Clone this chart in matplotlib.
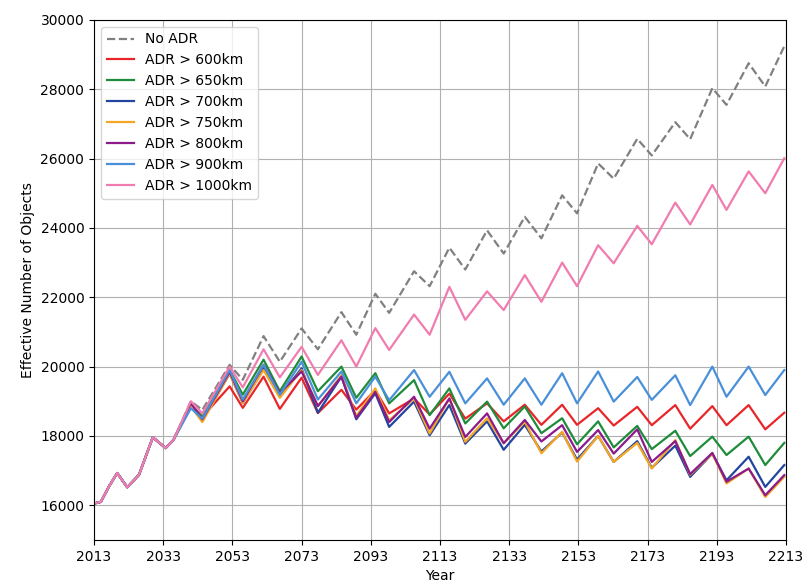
import matplotlib
matplotlib.use("Agg")
import matplotlib.pyplot as plt

# shared x positions (years at the peaks / troughs of the cycle)
years = [2013, 2015, 2017.3, 2019.7, 2022.6, 2024.6, 2026, 2030, 2033.7, 2036,
         2041, 2044.3, 2052.2, 2056, 2062, 2066.7, 2073, 2077.7, 2084.5, 2088.8,
         2094.3, 2098.3, 2105.5, 2110, 2115.7, 2120.3, 2126.6, 2131.4, 2137.5, 2142.3,
         2148.3, 2152.6, 2158.7, 2163.2, 2170, 2174.2, 2181, 2185.3, 2191.7, 2195.8,
         2202.2, 2207, 2212.5]

early = [16050, 16100, 16540, 16930, 16520, 16730, 16880, 17960, 17650, 17890]

no_adr = early + [19000, 18750, 20050, 19620, 20880, 20140, 21100, 20500, 21570, 20920,
                  22100, 21550, 22750, 22320, 23430, 22800, 23930, 23260, 24320, 23700,
                  24940, 24420, 25860, 25420, 26570, 26090, 27050, 26560, 28030, 27550,
                  28750, 28080, 29240]

adr_600 = early + [18900, 18550, 19430, 18810, 19710, 18780, 19680, 18660, 19330, 18760,
                   19320, 18650, 19080, 18620, 19220, 18500, 18940, 18420, 18900, 18320,
                   18900, 18320, 18800, 18300, 18840, 18310, 18890, 18210, 18860, 18310,
                   18890, 18190, 18670]

adr_650 = early + [18900, 18550, 19900, 19190, 20200, 19290, 20290, 19290, 20000, 19100,
                   19810, 18940, 19610, 18600, 19370, 18360, 18990, 18220, 18850, 18080,
                   18510, 17760, 18420, 17670, 18290, 17620, 18150, 17420, 17980, 17450,
                   17980, 17160, 17800]

adr_700 = early + [18900, 18450, 19800, 18950, 19950, 19140, 19950, 18670, 19710, 18480,
                   19230, 18260, 18990, 18020, 18890, 17780, 18420, 17600, 18320, 17550,
                   18100, 17320, 18000, 17250, 17850, 17080, 17720, 16820, 17490, 16720,
                   17400, 16530, 17160]

adr_750 = early + [18850, 18400, 19800, 18950, 19900, 19100, 19900, 18860, 19750, 18570,
                   19370, 18450, 19080, 18070, 19080, 17830, 18510, 17790, 18410, 17500,
                   18120, 17260, 18000, 17250, 17800, 17060, 17880, 16880, 17490, 16630,
                   17060, 16240, 16820]

adr_800 = early + [18950, 18480, 19850, 19000, 20050, 19240, 19860, 18860, 19710, 18520,
                   19270, 18400, 19130, 18210, 19080, 17970, 18650, 17790, 18460, 17840,
                   18310, 17540, 18170, 17490, 18190, 17250, 17850, 16900, 17510, 16680,
                   17060, 16290, 16870]

adr_900 = early + [18800, 18500, 19900, 19050, 20050, 19190, 20140, 19050, 19860, 18940,
                   19710, 19030, 19900, 19130, 19850, 18940, 19660, 18900, 19660, 18900,
                   19810, 18940, 19860, 18990, 19700, 19040, 19750, 18890, 20000, 19130,
                   20000, 19180, 19900]

adr_1000 = early + [19000, 18650, 20000, 19400, 20500, 19690, 20570, 19760, 20760, 20000,
                    21110, 20480, 21500, 20920, 22300, 21350, 22170, 21630, 22640, 21870,
                    23000, 22320, 23500, 22980, 24060, 23530, 24730, 24100, 25240, 24520,
                    25630, 25000, 26010]

series = [
    ("ADR > 600km", adr_600, "#e8262a"),
    ("ADR > 650km", adr_650, "#1e8c3a"),
    ("ADR > 700km", adr_700, "#2345a0"),
    ("ADR > 750km", adr_750, "#f5a623"),
    ("ADR > 800km", adr_800, "#8b1a8b"),
    ("ADR > 900km", adr_900, "#4a90d9"),
    ("ADR > 1000km", adr_1000, "#f07cb0"),
]

fig = plt.figure(figsize=(8.07, 5.85), dpi=100)
ax = fig.add_axes([0.1165, 0.077, 0.8575, 0.889])

ax.plot(years, no_adr, "--", color="#808080", lw=1.6, label="No ADR")
for name, vals, col in series:
    ax.plot(years, vals, color=col, lw=1.6, label=name)

ax.set_xlim(2013, 2213)
ax.set_ylim(15000, 30000)
ax.set_xticks(range(2013, 2214, 20))
ax.set_yticks(range(16000, 30001, 2000))
ax.grid(True, color="#b0b0b0", lw=0.8)
ax.set_xlabel("Year")
ax.set_ylabel("Effective Number of Objects")
ax.legend(loc="upper left")

fig.savefig("out.png", dpi=100)
